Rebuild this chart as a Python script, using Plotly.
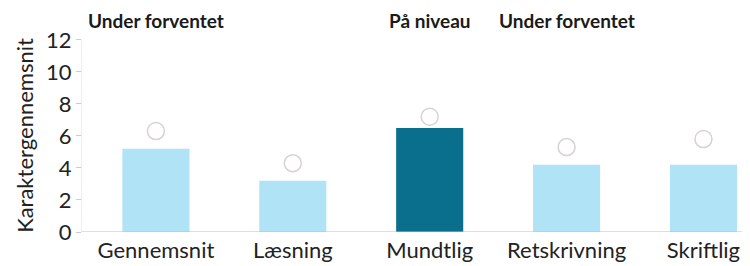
import plotly.graph_objects as go

categories = ["Gennemsnit", "Læsning", "Mundtlig", "Retskrivning", "Skriftlig"]
bar_values = [5.2, 3.2, 6.5, 4.2, 4.2]
expected_values = [6.3, 4.3, 7.2, 5.3, 5.8]
bar_colors = ["#b0e3f5", "#b0e3f5", "#0a6e8d", "#b0e3f5", "#b0e3f5"]
status_labels = ["Under forventet", "", "På niveau", "Under forventet", ""]
y_ticks = [0, 2, 4, 6, 8, 10, 12]

fig = go.Figure()
fig.add_trace(go.Bar(x=categories, y=bar_values, marker=dict(color=bar_colors, line=dict(width=0)),
                     width=0.49, showlegend=False))
fig.add_trace(go.Scatter(x=categories, y=expected_values, mode="markers",
                         marker=dict(symbol="circle", size=17, color="rgba(255,255,255,0)",
                                     line=dict(color="#d8d2d2", width=1.5)),
                         showlegend=False))

for c, lab in zip(categories, status_labels):
    if lab:
        fig.add_annotation(x=c, y=1, yref="paper", yanchor="bottom", text="<b>" + lab + "</b>",
                           showarrow=False, font=dict(family="Lato", size=19, color="#1a1a1a"),
                           yshift=5)

fig.update_layout(
    width=750, height=266,
    margin=dict(l=74, r=8, t=31, b=42, autoexpand=False),
    paper_bgcolor="white", plot_bgcolor="white",
    font=dict(family="Lato", color="#222222"),
    bargap=0.5,
)
fig.update_xaxes(type="category", range=[-0.54, 4.34], showgrid=False, showline=False,
                 tickfont=dict(size=22, color="#222222"), ticks="", zeroline=False, automargin=False,
                 ticklabelstandoff=3)
fig.update_yaxes(range=[0, 12.05], tickvals=y_ticks, showgrid=False, showline=True,
                 linecolor="#eeeeee", linewidth=1, ticks="outside", ticklen=5, tickcolor="#cccccc",
                 tickfont=dict(size=22, color="#222222"), zeroline=False, automargin=False,
                 title=dict(text="Karaktergennemsnit", font=dict(size=22, color="#222222"), standoff=6))
fig.add_shape(type="line", xref="paper", yref="y", x0=0, x1=1, y0=0, y1=0,
              line=dict(color="#bdbdbd", width=1.2))

fig.write_html("out.html")
